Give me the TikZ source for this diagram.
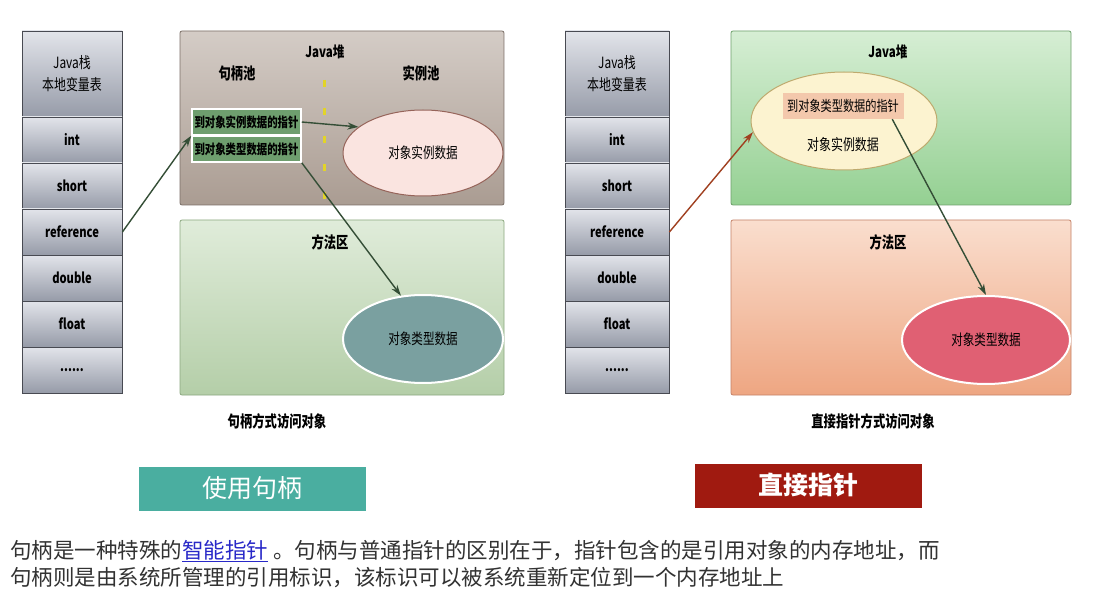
\documentclass[tikz,border=0pt]{standalone}
\usepackage{fontspec}
\setmainfont{Noto Sans CJK SC}
\newfontfamily\narrow[FakeStretch=0.77]{Noto Sans CJK SC}
\usetikzlibrary{arrows.meta,shapes.geometric}

\definecolor{cellTop}{RGB}{226,228,234}
\definecolor{cellBot}{RGB}{150,155,168}
\definecolor{cellLine}{RGB}{72,74,82}
\definecolor{heapLTop}{RGB}{212,204,198}
\definecolor{heapLBot}{RGB}{170,156,146}
\definecolor{heapLLine}{RGB}{122,110,102}
\definecolor{methLTop}{RGB}{224,236,218}
\definecolor{methLBot}{RGB}{180,206,168}
\definecolor{methLLine}{RGB}{140,168,128}
\definecolor{heapRTop}{RGB}{214,238,212}
\definecolor{heapRBot}{RGB}{148,208,146}
\definecolor{heapRLine}{RGB}{110,160,108}
\definecolor{methRTop}{RGB}{250,222,206}
\definecolor{methRBot}{RGB}{238,166,130}
\definecolor{methRLine}{RGB}{196,130,104}
\definecolor{handleGreen}{RGB}{110,158,110}
\definecolor{instFill}{RGB}{250,228,224}
\definecolor{instLine}{RGB}{150,100,90}
\definecolor{typFill}{RGB}{122,160,160}
\definecolor{objFill}{RGB}{252,243,208}
\definecolor{objLine}{RGB}{190,170,110}
\definecolor{tlabFill}{RGB}{243,200,172}
\definecolor{typRFill}{RGB}{224,96,115}
\definecolor{dashYellow}{RGB}{226,212,40}
\definecolor{linkGreen}{RGB}{52,78,54}
\definecolor{linkBrown}{RGB}{160,64,32}
\definecolor{badgeTeal}{RGB}{74,174,160}
\definecolor{badgeRed}{RGB}{160,26,16}
\definecolor{textGray}{RGB}{50,50,50}
\definecolor{linkBlue}{RGB}{40,40,200}
\newcommand\sixdots{......}

\tikzset{
  cell/.style={draw=cellLine, line width=0.8pt, top color=cellTop, bottom color=cellBot,
    minimum height=46pt, inner sep=0pt, font=\narrow\bfseries\fontsize{14.5}{16}\selectfont},
  area/.style={rounded corners=2pt, line width=0.8pt, inner sep=0pt},
  oval/.style={ellipse, inner sep=0pt, font=\narrow\fontsize{15}{17}\selectfont},
  handle/.style={draw=white, line width=1.5pt, fill=handleGreen, minimum width=109pt,
    minimum height=26pt, inner sep=0pt, font=\narrow\bfseries\fontsize{13.5}{15}\selectfont},
  title/.style={font=\narrow\bfseries\fontsize{16}{18}\selectfont},
  link/.style={line width=1.4pt, draw=linkGreen,
    -{Stealth[length=11pt,width=7pt,fill=linkGreen]}},
  badge/.style={minimum width=227pt, minimum height=44pt, inner sep=0pt, text=white},
}

\begin{document}
\begin{tikzpicture}[x=1pt,y=-1pt]
\useasboundingbox[fill=white] (0,0) rectangle (1096,615);
% the two stacks
\foreach \s/\x/\w in {L/72/100, R/617/104}{
  \node[cell, minimum width=\w pt, minimum height=86pt, align=center,
    font=\narrow\fontsize{15.5}{22}\selectfont] (\s top) at (\x,74) {Java栈\\本地变量表};
  \foreach \lab/\nm [count=\i] in {int/int, short/short, reference/ref, double/dbl, float/flt, \sixdots/dots}
    \node[cell, minimum width=\w pt] (\s\nm) at (\x,94+46*\i) {\lab};
}
%
% handle access
\node[area, draw=heapLLine, top color=heapLTop, bottom color=heapLBot,
  minimum width=324pt, minimum height=174pt] (heapL) at (342,118) {};
\node[area, draw=methLLine, top color=methLTop, bottom color=methLBot,
  minimum width=324pt, minimum height=175pt] (methL) at (342,307.5) {};
\node[title, font=\narrow\fontsize{15}{17}\selectfont\bfseries] (javaL) at (325,52) {Java堆};
\node[title] (pool) at (237,73) {句柄池};
\node[title] (ipool) at (421,73) {实例池};
\draw[line width=3pt, draw=dashYellow, dash pattern=on 7pt off 21pt] (324,80) -- (324,205);
\node[handle] (hi) at (246.5,122) {到对象实例数据的指针};
\node[handle] (ht) at (246.5,149) {到对象类型数据的指针};
\node[oval, draw=instLine, line width=1pt, fill=instFill,
  minimum width=160pt, minimum height=86pt] (inst) at (423,153) {对象实例数据};
\node[title] (methLt) at (330,242) {方法区};
\node[oval, draw=white, line width=2pt, fill=typFill,
  minimum width=160pt, minimum height=88pt] (typ) at (423,339) {对象类型数据};
\node[title] (capL) at (277,421) {句柄方式访问对象};
%
\draw[link] (Lref.east) -- (hi.south west);
\draw[link] (hi.east) -- (inst.158);
\draw[link] (ht.south east) -- (typ.117);
%
% direct pointer access
\node[area, draw=heapRLine, top color=heapRTop, bottom color=heapRBot,
  minimum width=340pt, minimum height=174pt] (heapR) at (901,118) {};
\node[area, draw=methRLine, top color=methRTop, bottom color=methRBot,
  minimum width=340pt, minimum height=175pt] (methR) at (901,307.5) {};
\node[title, font=\narrow\fontsize{15}{17}\selectfont\bfseries] (javaR) at (888,52) {Java堆};
\node[oval, draw=objLine, line width=1pt, fill=objFill,
  minimum width=186pt, minimum height=98pt] (obj) at (844,121) {};
\node[fill=tlabFill, minimum width=121pt, minimum height=26pt, inner sep=0pt,
  font=\narrow\fontsize{14.5}{16}\selectfont] (tlab) at (843,106) {到对象类型数据的指针};
\node[font=\narrow\fontsize{15.5}{17}\selectfont] (olab) at (843,145) {对象实例数据};
\node[title] (methRt) at (888,242) {方法区};
\node[oval, draw=white, line width=2pt, fill=typRFill,
  minimum width=168pt, minimum height=88pt] (typ2) at (986,340) {对象类型数据};
\node[title] (capR) at (873,421) {直接指针方式访问对象};
%
\draw[link, draw=linkBrown, -{Stealth[length=11pt,width=7pt,fill=linkBrown]}] (Rref.east) -- (obj.187);
\draw[link] (tlab.-15) -- (typ2.north);
%
% badges and note
\node[badge, fill=badgeTeal, font=\fontsize{25}{28}\selectfont] (useH) at (252,488.5) {使用句柄};
\node[badge, fill=badgeRed, font=\bfseries\fontsize{25}{28}\selectfont] (useP) at (808.5,485.5) {直接指针};
\node[anchor=west, inner sep=0pt, text=textGray, font=\fontsize{21.5}{27}\selectfont] (note1) at (10,551)
  {句柄是一种特殊的\textcolor{linkBlue}{\underline{智能指针}} 。句柄与普通指针的区别在于，指针包含的是引用对象的内存地址，而};
\node[anchor=west, inner sep=0pt, text=textGray, font=\fontsize{21.5}{27}\selectfont] (note2) at (10,578)
  {句柄则是由系统所管理的引用标识，该标识可以被系统重新定位到一个内存地址上};
\end{tikzpicture}
\end{document}
